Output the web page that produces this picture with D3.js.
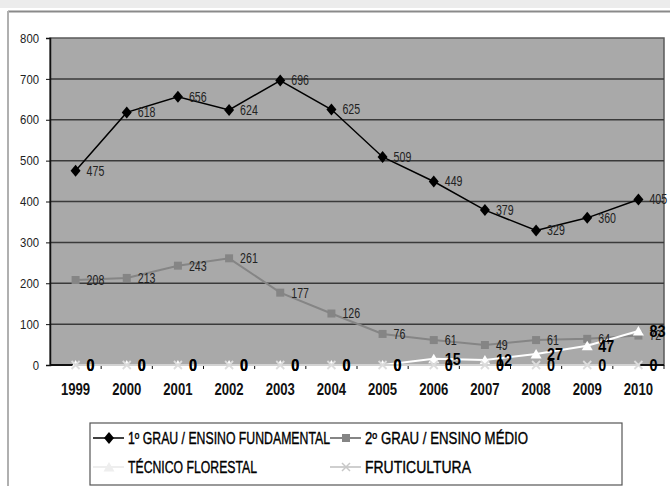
<!DOCTYPE html>
<html>
<head>
<meta charset="utf-8">
<script src="https://cdn.jsdelivr.net/npm/d3@7"></script>
<style>
  html, body { margin: 0; padding: 0; background: #fff; }
  svg { display: block; }
  text { font-family: "Liberation Sans", Arial, sans-serif; }
</style>
</head>
<body>
<svg id="chart" width="670" height="486"></svg>
<script>
// Enrolment per year, by course
const years = ["1999","2000","2001","2002","2003","2004","2005","2006","2007","2008","2009","2010"];
const fundamental = [475, 618, 656, 624, 696, 625, 509, 449, 379, 329, 360, 405];
const medio       = [208, 213, 243, 261, 177, 126, 76, 61, 49, 61, 64, 72];
const florestal   = [0, 0, 0, 0, 0, 0, 0, 15, 12, 27, 47, 83];
const fruticultura = [0, 0, 0, 0, 0, 0, 0, 0, 0, 0, 0, 0];
const yTicks = [0, 100, 200, 300, 400, 500, 600, 700, 800];
const seriesNames = ["1º GRAU / ENSINO FUNDAMENTAL", "2º GRAU / ENSINO MÉDIO", "TÉCNICO FLORESTAL", "FRUTICULTURA"];

const svg = d3.select("#chart");

// condensed look: squeeze text to a per-character width
const narrow = (sel, perChar) => sel.attr("textLength", function () {
  return this.textContent.length * perChar;
}).attr("lengthAdjust", "spacingAndGlyphs");

// chart frame
svg.append("rect").attr("x", 0).attr("y", 0).attr("width", 670).attr("height", 8).attr("fill", "#ececec");
svg.append("line").attr("x1", 8).attr("x2", 670).attr("y1", 11.5).attr("y2", 11.5)
  .attr("stroke", "#8a8a8a").attr("stroke-width", 2);
svg.append("line").attr("x1", 8).attr("x2", 8).attr("y1", 11).attr("y2", 486)
  .attr("stroke", "#b0b0b0").attr("stroke-width", 2);

const plot = { left: 50, right: 664, top: 38, bottom: 365 };
const x = d3.scaleBand().domain(years).range([plot.left, plot.right]);
const y = d3.scaleLinear().domain([0, 800]).range([plot.bottom, plot.top]);
const cx = d => x(d) + x.bandwidth() / 2;

// plot area
svg.append("rect")
  .attr("x", plot.left).attr("y", plot.top)
  .attr("width", plot.right - plot.left).attr("height", plot.bottom - plot.top)
  .attr("fill", "#a9a9a9").attr("stroke", "#5a5a5a").attr("stroke-width", 1.5);

// horizontal gridlines
svg.append("g").selectAll("line").data(yTicks.filter(t => t > 0 && t < 800)).join("line")
  .attr("x1", plot.left).attr("x2", plot.right)
  .attr("y1", d => y(d)).attr("y2", d => y(d))
  .attr("stroke", "#3a3a3a").attr("stroke-width", 1.5);

// y axis
const yAxis = svg.append("g").attr("transform", `translate(${plot.left},0)`)
  .call(d3.axisLeft(y).tickValues(yTicks).tickSize(4).tickPadding(7));
yAxis.select(".domain").attr("stroke", "#111").attr("stroke-width", 1.5);
yAxis.selectAll(".tick line").attr("stroke", "#111");
yAxis.selectAll("text").attr("font-size", 13).attr("fill", "#222")
  .style("font-family", '"Liberation Sans", Arial, sans-serif');
narrow(yAxis.selectAll("text"), 6.3);

// x axis: ticks sit between categories
const xAxisG = svg.append("g").attr("transform", `translate(0,${plot.bottom})`);
xAxisG.append("line").attr("x1", plot.left).attr("x2", plot.right).attr("y1", 0).attr("y2", 0)
  .attr("stroke", "#111").attr("stroke-width", 2);
xAxisG.selectAll("line.tk").data(years).join("line").attr("class", "tk")
  .attr("x1", d => x(d) + x.bandwidth()).attr("x2", d => x(d) + x.bandwidth())
  .attr("y1", 0).attr("y2", 4).attr("stroke", "#111");
const xLabels = xAxisG.selectAll("text").data(years).join("text")
  .attr("x", d => cx(d)).attr("y", 30)
  .attr("text-anchor", "middle").attr("font-size", 16).attr("font-weight", "bold").attr("fill", "#111")
  .text(d => d);
narrow(xLabels, 7.3);

// series definitions
const diamond = "M0,-6L5,0L0,6L-5,0Z";
const square = "M-4,-4H4V4H-4Z";
const triangle = "M0,-5L5.5,4.5H-5.5Z";
const cross = "M-4,-4L4,4M-4,4L4,-4";
const series = [
  { name: seriesNames[0], values: fundamental, line: "#000", width: 1.5, marker: diamond, mfill: "#000", mstroke: "none", label: { size: 14, weight: "normal", fill: "#222", w: 5.9 } },
  { name: seriesNames[1], values: medio, line: "#858585", width: 2, marker: square, mfill: "#858585", mstroke: "none", label: { size: 14, weight: "normal", fill: "#222", w: 5.9 } },
  { name: seriesNames[2], values: florestal, line: "#ffffff", width: 2, marker: triangle, mfill: "#ffffff", mstroke: "none", label: { size: 17, weight: "bold", fill: "#000", w: 8 } },
  { name: seriesNames[3], values: fruticultura, line: "#d2d2d2", width: 2, marker: cross, mfill: "none", mstroke: "#dcdcdc", label: { size: 17, weight: "bold", fill: "#000", w: 8 } }
];

const lineGen = d3.line().x((d, i) => cx(years[i])).y(d => y(d));

series.forEach(s => {
  svg.append("path").datum(s.values).attr("d", lineGen)
    .attr("fill", "none").attr("stroke", s.line).attr("stroke-width", s.width);
  svg.append("g").selectAll("path").data(s.values).join("path")
    .attr("transform", (d, i) => `translate(${cx(years[i])},${y(d)})`)
    .attr("d", s.marker).attr("fill", s.mfill)
    .attr("stroke", s.mstroke).attr("stroke-width", s.mstroke === "none" ? 0 : 1.8);
});

// value labels, to the right of each point
series.forEach(s => {
  const t = svg.append("g").selectAll("text").data(s.values).join("text")
    .attr("x", (d, i) => cx(years[i]) + 11)
    .attr("y", d => y(d))
    .attr("dy", "0.35em")
    .attr("font-size", s.label.size).attr("font-weight", s.label.weight).attr("fill", s.label.fill)
    .text(d => d);
  narrow(t, s.label.w);
});

// legend
const lg = svg.append("g");
lg.append("rect").attr("x", 90).attr("y", 423).attr("width", 532).attr("height", 62)
  .attr("fill", "#fff").attr("stroke", "#555").attr("stroke-width", 1.2);
const legendPos = [
  { x: 93, y: 438, w: 202 }, { x: 330, y: 438, w: 163 }, { x: 93, y: 467, w: 129 }, { x: 330, y: 467, w: 106 }
];
series.forEach((s, i) => {
  const p = legendPos[i];
  const g = lg.append("g").attr("transform", `translate(${p.x},${p.y})`);
  g.append("line").attr("x1", 0).attr("x2", 31).attr("y1", 0).attr("y2", 0)
    .attr("stroke", i === 2 ? "#eeeeee" : (i === 3 ? "#cfcfcf" : s.line)).attr("stroke-width", s.width);
  g.append("path").attr("transform", "translate(16,0)").attr("d", s.marker)
    .attr("fill", i === 2 ? "#eeeeee" : s.mfill)
    .attr("stroke", i === 3 ? "#c8c8c8" : "none").attr("stroke-width", 1.5);
  g.append("text").attr("x", 35).attr("dy", "0.35em")
    .attr("font-size", 16).attr("fill", "#000")
    .attr("stroke", "#000").attr("stroke-width", 0.35)
    .attr("textLength", p.w).attr("lengthAdjust", "spacingAndGlyphs")
    .text(s.name);
});
</script>
</body>
</html>
